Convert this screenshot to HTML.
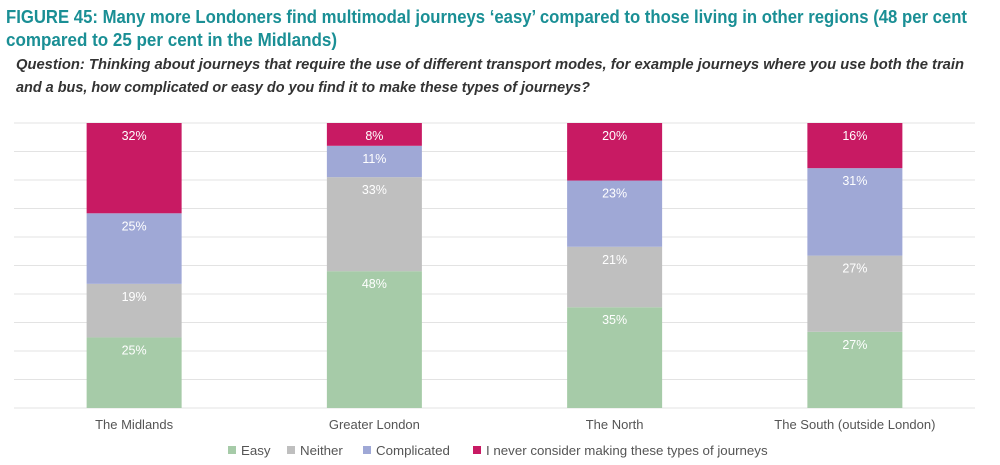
<!DOCTYPE html>
<html><head><meta charset="utf-8"><style>
html,body{margin:0;padding:0;background:#fff;}
svg{display:block;font-family:"Liberation Sans",sans-serif;}
</style></head><body>
<svg id="chart" width="1000" height="465" viewBox="0 0 1000 465">
<text x="6" y="23" font-size="18.5" font-weight="bold" fill="#1a8f95" textLength="961" lengthAdjust="spacingAndGlyphs">FIGURE 45: Many more Londoners find multimodal journeys ‘easy’ compared to those living in other regions (48 per cent</text>
<text x="6" y="46" font-size="18.5" font-weight="bold" fill="#1a8f95" textLength="331" lengthAdjust="spacingAndGlyphs">compared to 25 per cent in the Midlands)</text>
<text x="16" y="69" font-size="15" font-style="italic" font-weight="bold" fill="#333" textLength="948" lengthAdjust="spacingAndGlyphs">Question: Thinking about journeys that require the use of different transport modes, for example journeys where you use both the train</text>
<text x="16" y="92" font-size="15" font-style="italic" font-weight="bold" fill="#333" textLength="574" lengthAdjust="spacingAndGlyphs">and a bus, how complicated or easy do you find it to make these types of journeys?</text>
<g id="grid"></g><g id="bars"></g><g id="xlabels"></g><g id="legend"></g>
</svg>
<script>
const categories = ["The Midlands","Greater London","The North","The South (outside London)"];
const easy = [25,48,35,27];
const neither = [19,33,21,27];
const complicated = [25,11,23,31];
const never = [32,8,20,16];
const seriesNames = ["Easy","Neither","Complicated","I never consider making these types of journeys"];
const colors = ["#a6cba8","#bfbfbf","#9fa8d6","#c81a63"];
const series = [easy,neither,complicated,never];
const NS="http://www.w3.org/2000/svg";
const L=14,R=975,T=123,B=408;
const y=v=>B-(B-T)*v/100;
const band=(R-L)/categories.length;
const xc=i=>L+band*(i+0.5);
const bw=95;
function mk(tag,attrs,parent){const e=document.createElementNS(NS,tag);for(const k in attrs)e.setAttribute(k,attrs[k]);parent.appendChild(e);return e;}
const grid=document.getElementById('grid');
for(let t=0;t<=100;t+=10){
 const l=mk('line',{x1:L,x2:R,y1:y(t),y2:y(t),stroke:'#e3e3e3','stroke-width':1},grid);
 
 
}
const bars=document.getElementById('bars');
categories.forEach((c,i)=>{
 const tot=series.reduce((s,a)=>s+a[i],0);
 let acc=0;
 series.forEach((s,k)=>{
  const v=s[i]/tot*100;
  const y0=y(acc),y1=y(acc+v);
  const r=mk('rect',{x:xc(i)-bw/2,y:y1,width:bw,height:y0-y1,fill:colors[k]},bars);
  
  
  const t=mk('text',{x:xc(i),y:y1+17,'text-anchor':'middle','font-size':12.5,fill:'#fff'},bars);
  
  
  t.textContent=s[i]+'%';
  acc+=v;
 });
 const lb=mk('text',{x:xc(i),y:429,'text-anchor':'middle','font-size':13,fill:'#555'},document.getElementById('xlabels'));
 
 
 lb.textContent=c;
});
const lg=document.getElementById('legend');
const lx=[228,287,363,473];
seriesNames.forEach((n,k)=>{
 const s=mk('rect',{x:lx[k],y:446,width:8,height:8,fill:colors[k]},lg);
 
 
 const t=mk('text',{x:lx[k]+13,y:455,'font-size':13.3,fill:'#555'},lg);
 
 
 t.textContent=n;
});
</script>
</body></html>
